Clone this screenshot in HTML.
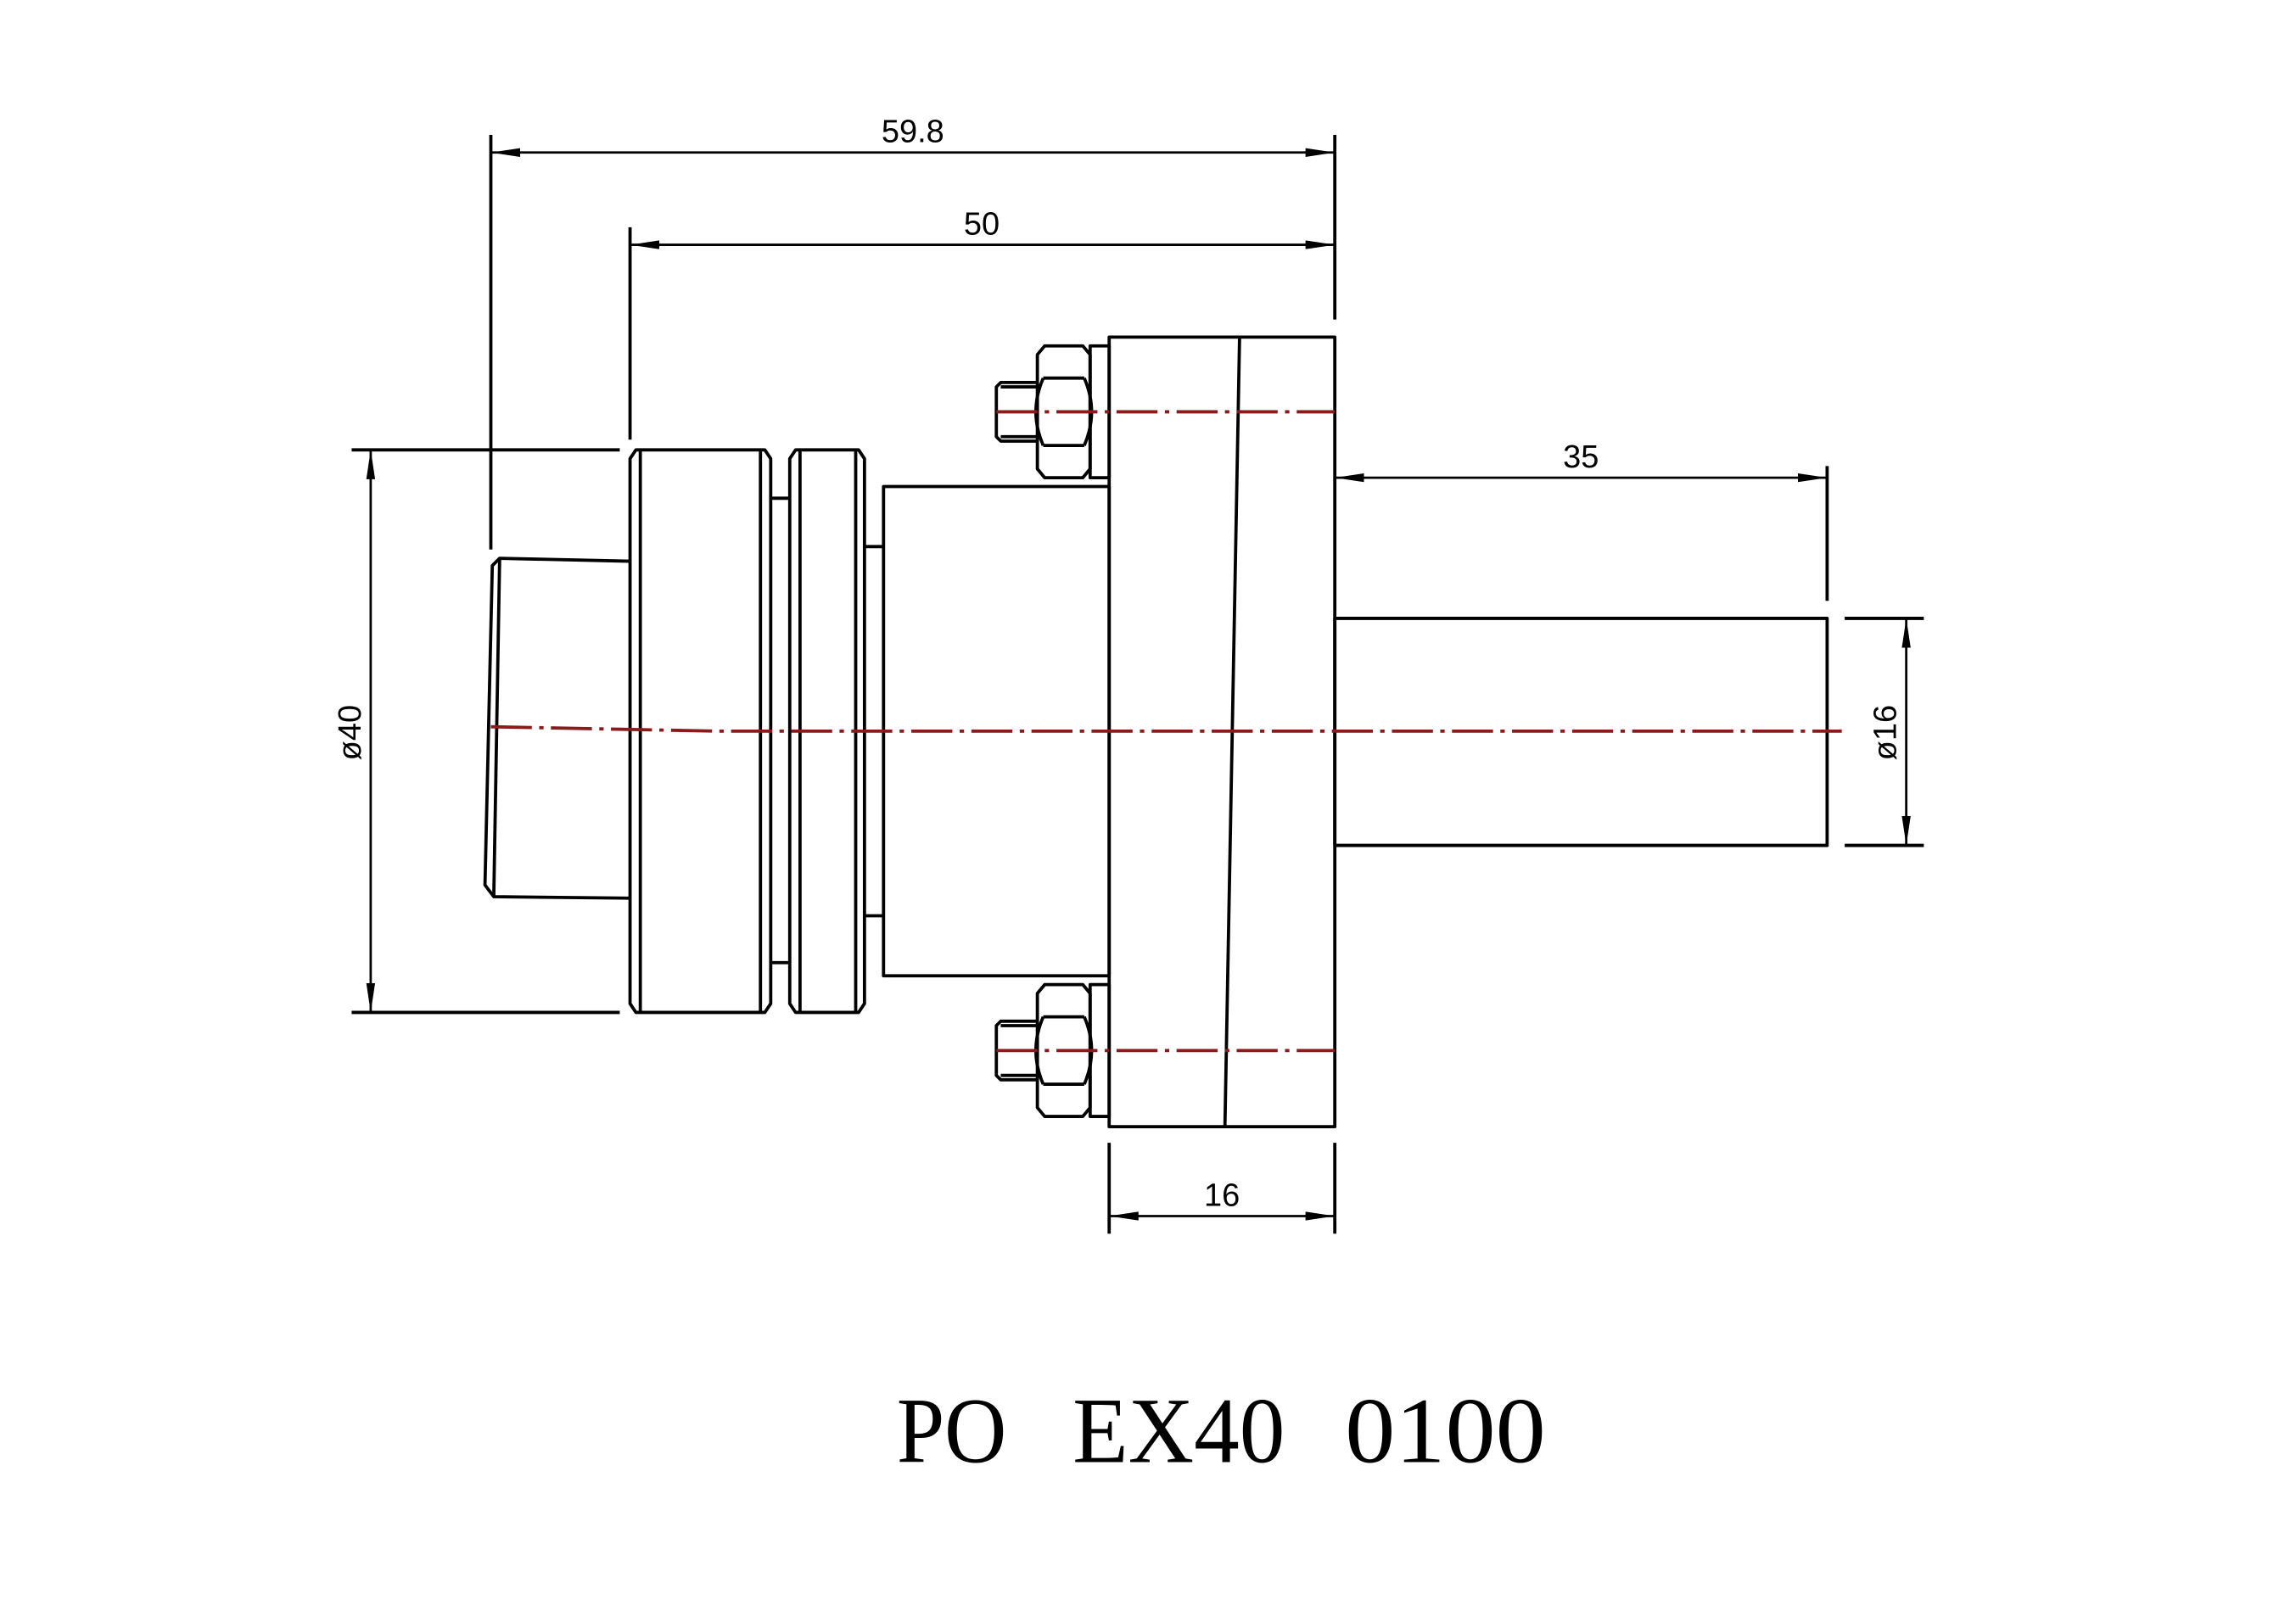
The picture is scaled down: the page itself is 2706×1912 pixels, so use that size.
<!DOCTYPE html>
<html><head><meta charset="utf-8"><style>
html,body{margin:0;padding:0;background:#fff;}
svg{display:block;}
text{fill:#000;}
.s{font-family:"Liberation Sans",sans-serif;}
.t{font-family:"Liberation Serif",serif;}
</style></head><body>
<svg width="2706" height="1912" viewBox="0 0 1567 1107" xmlns="http://www.w3.org/2000/svg">
<defs>
<marker id="a" viewBox="0 0 20 6" refX="20" refY="3" markerWidth="20" markerHeight="6" markerUnits="userSpaceOnUse" orient="auto-start-reverse"><path d="M0,0 L20,3 L0,6 Z" fill="#000"/></marker>
</defs>
<g fill="none" stroke="#000" stroke-width="2.2" stroke-linejoin="round">
<line x1="335" y1="92" x2="335" y2="375"/>
<line x1="911" y1="92" x2="911" y2="218"/>
<line x1="335" y1="104" x2="911" y2="104" marker-start="url(#a)" marker-end="url(#a)" stroke-width="1.6"/>
<line x1="430" y1="155" x2="430" y2="300"/>
<line x1="430" y1="167" x2="911" y2="167" marker-start="url(#a)" marker-end="url(#a)" stroke-width="1.6"/>
<line x1="240" y1="307" x2="423" y2="307"/>
<line x1="240" y1="691" x2="423" y2="691"/>
<line x1="253" y1="307" x2="253" y2="691" marker-start="url(#a)" marker-end="url(#a)" stroke-width="1.6"/>
<line x1="1247" y1="318" x2="1247" y2="410"/>
<line x1="911" y1="326" x2="1247" y2="326" marker-start="url(#a)" marker-end="url(#a)" stroke-width="1.6"/>
<line x1="1259" y1="422" x2="1313" y2="422"/>
<line x1="1259" y1="577" x2="1313" y2="577"/>
<line x1="1301" y1="422" x2="1301" y2="577" marker-start="url(#a)" marker-end="url(#a)" stroke-width="1.6"/>
<line x1="757" y1="780" x2="757" y2="842"/>
<line x1="911" y1="780" x2="911" y2="842"/>
<line x1="757" y1="830" x2="911" y2="830" marker-start="url(#a)" marker-end="url(#a)" stroke-width="1.6"/>

<path d="M430,383 L341,381 L336,386 L331,604 L337,612 L430,613"/>
<line x1="341" y1="381" x2="337" y2="612"/>
<path d="M430,313 L434,307 L522,307 L526,313 L526,685 L522,691 L434,691 L430,685 Z"/>
<line x1="437" y1="307" x2="437" y2="691"/>
<line x1="519" y1="307" x2="519" y2="691"/>
<line x1="526" y1="340" x2="539" y2="340"/>
<line x1="526" y1="657" x2="539" y2="657"/>
<path d="M539,313 L543,307 L586,307 L590,313 L590,685 L586,691 L543,691 L539,685 Z"/>
<line x1="546" y1="307" x2="546" y2="691"/>
<line x1="584" y1="307" x2="584" y2="691"/>
<line x1="590" y1="373" x2="603" y2="373"/>
<line x1="590" y1="625" x2="603" y2="625"/>
<rect x="603" y="332" width="154" height="334"/>
<rect x="757" y="230" width="154" height="539"/>
<line x1="846" y1="230" x2="836" y2="769"/>
<rect x="911" y="422" width="336" height="155"/>

<rect x="744" y="236" width="13" height="90"/>
<path d="M713,236 L739,236 L744,242 L744,320 L739,326 L713,326 L708,320 L708,242 Z"/>
<path d="M712,258 L740,258 M712,304 L740,304"/>
<path d="M712,258 Q702,281 712,304 M740,258 Q750,281 740,304"/>
<path d="M708,261 L683,261 L680,264 L680,298 L683,301 L708,301"/>
<line x1="683" y1="264" x2="708" y2="264"/>
<line x1="683" y1="298" x2="708" y2="298"/>
<rect x="744" y="672" width="13" height="90"/>
<path d="M713,672 L739,672 L744,678 L744,756 L739,762 L713,762 L708,756 L708,678 Z"/>
<path d="M712,694 L740,694 M712,740 L740,740"/>
<path d="M712,694 Q702,717 712,740 M740,694 Q750,717 740,740"/>
<path d="M708,697 L683,697 L680,700 L680,734 L683,737 L708,737"/>
<line x1="683" y1="700" x2="708" y2="700"/>
<line x1="683" y1="734" x2="708" y2="734"/>
</g>
<g stroke="#8b1a1a" stroke-width="2.2" fill="none" stroke-dasharray="28,5,3,5">
<path d="M335,496 L490,499 L1257,499"/>
<line x1="680" y1="281" x2="911" y2="281"/>
<line x1="680" y1="717" x2="911" y2="717"/>
</g>
<g font-size="22">
<text class="s" x="623" y="97" text-anchor="middle">59.8</text>
<text class="s" x="670" y="160" text-anchor="middle">50</text>
<text class="s" x="1079" y="319" text-anchor="middle">35</text>
<text class="s" x="834" y="823" text-anchor="middle">16</text>
<text class="s" transform="translate(246,500) rotate(-90)" text-anchor="middle">ø40</text>
<text class="s" transform="translate(1294,500) rotate(-90)" text-anchor="middle">ø16</text>
</g>
<g font-size="64">
<text class="t" x="612" y="998" textLength="75" lengthAdjust="spacingAndGlyphs">PO</text>
<text class="t" x="732" y="998" textLength="145" lengthAdjust="spacingAndGlyphs">EX40</text>
<text class="t" x="918" y="998" textLength="137" lengthAdjust="spacingAndGlyphs">0100</text>
</g>
</svg>
</body></html>
